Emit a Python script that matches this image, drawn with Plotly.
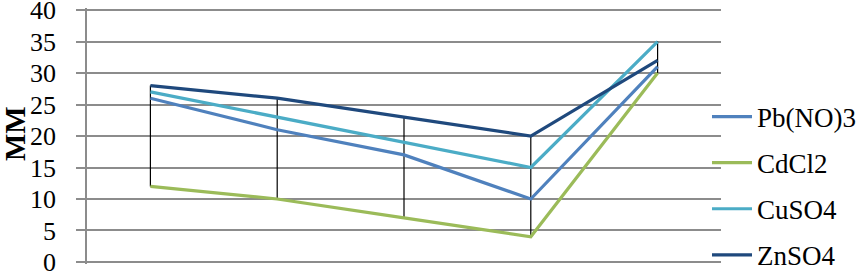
import numpy as np
import plotly.graph_objects as go

categories = [1, 2, 3, 4, 5]
pb_no3 = [26, 21, 17, 10, 31]
cdcl2 = [12, 10, 7, 4, 30]
cuso4 = [27, 23, 19, 15, 35]
znso4 = [28, 26, 23, 20, 32]
series_names = ["Pb(NO)3", "CdCl2", "CuSO4", "ZnSO4"]
series_colors = ["#4F81BD", "#9BBB59", "#4BACC6", "#1F497D"]
y_ticks = [0, 5, 10, 15, 20, 25, 30, 35, 40]

all_series = [pb_no3, cdcl2, cuso4, znso4]
arr = np.array(all_series)
hi = arr.max(axis=0)
lo = arr.min(axis=0)

fig = go.Figure()

# high-low drop lines
dx, dy = [], []
for c, h, l in zip(categories, hi, lo):
    dx += [c, c, None]
    dy += [h, l, None]
fig.add_trace(go.Scatter(x=dx, y=dy, mode="lines", line=dict(color="black", width=1.2),
                         showlegend=False, hoverinfo="skip"))

for i, (name, vals, col) in enumerate(zip(series_names, all_series, series_colors)):
    fig.add_trace(go.Scatter(x=categories, y=vals, mode="lines", name=name,
                             line=dict(color=col, width=3.2), legendgroup=name))

font_family = "Liberation Serif, Times New Roman, serif"
L, R, T, B = 87, 140, 8, 8
PW = 861 - L - R
PH = 272 - T - B

fig.update_layout(
    width=861, height=272,
    margin=dict(l=L, r=R, t=T, b=B, autoexpand=False),
    plot_bgcolor="white", paper_bgcolor="white",
    font=dict(family=font_family, color="black", size=26),
    showlegend=True,
    legend=dict(x=(707 - L) / PW, xanchor="left", y=(T + PH - 186) / PH, yanchor="middle",
                font=dict(size=27, family=font_family),
                itemwidth=40, tracegroupgap=8, traceorder="grouped",
                bgcolor="rgba(0,0,0,0)"),
    xaxis=dict(range=[0.5, 5.5], showticklabels=False, showgrid=False, zeroline=False,
               showline=False, ticks=""),
    yaxis=dict(range=[-0.32, 40.32], tickvals=y_ticks, showgrid=True, gridcolor="#8C8C8C", gridwidth=1.5,
               zeroline=False, showline=True, linecolor="#8C8C8C", linewidth=1.5,
               ticks="outside", ticklen=9, tickcolor="#8C8C8C", tickwidth=1.5,
               ticklabelstandoff=15, ticklabeloverflow="allow",
               tickfont=dict(size=26, family=font_family)),
    annotations=[dict(text="<b>MM</b>", x=(15 - L) / PW, xref="paper", y=(T + PH - 134) / PH, yref="paper",
                      textangle=-90, showarrow=False, xanchor="center", yanchor="middle",
                      font=dict(size=29, family=font_family))],
)

fig.write_html("out.html", config={"displayModeBar": False},
               post_script="document.body.style.margin='0';document.body.style.padding='0';")
